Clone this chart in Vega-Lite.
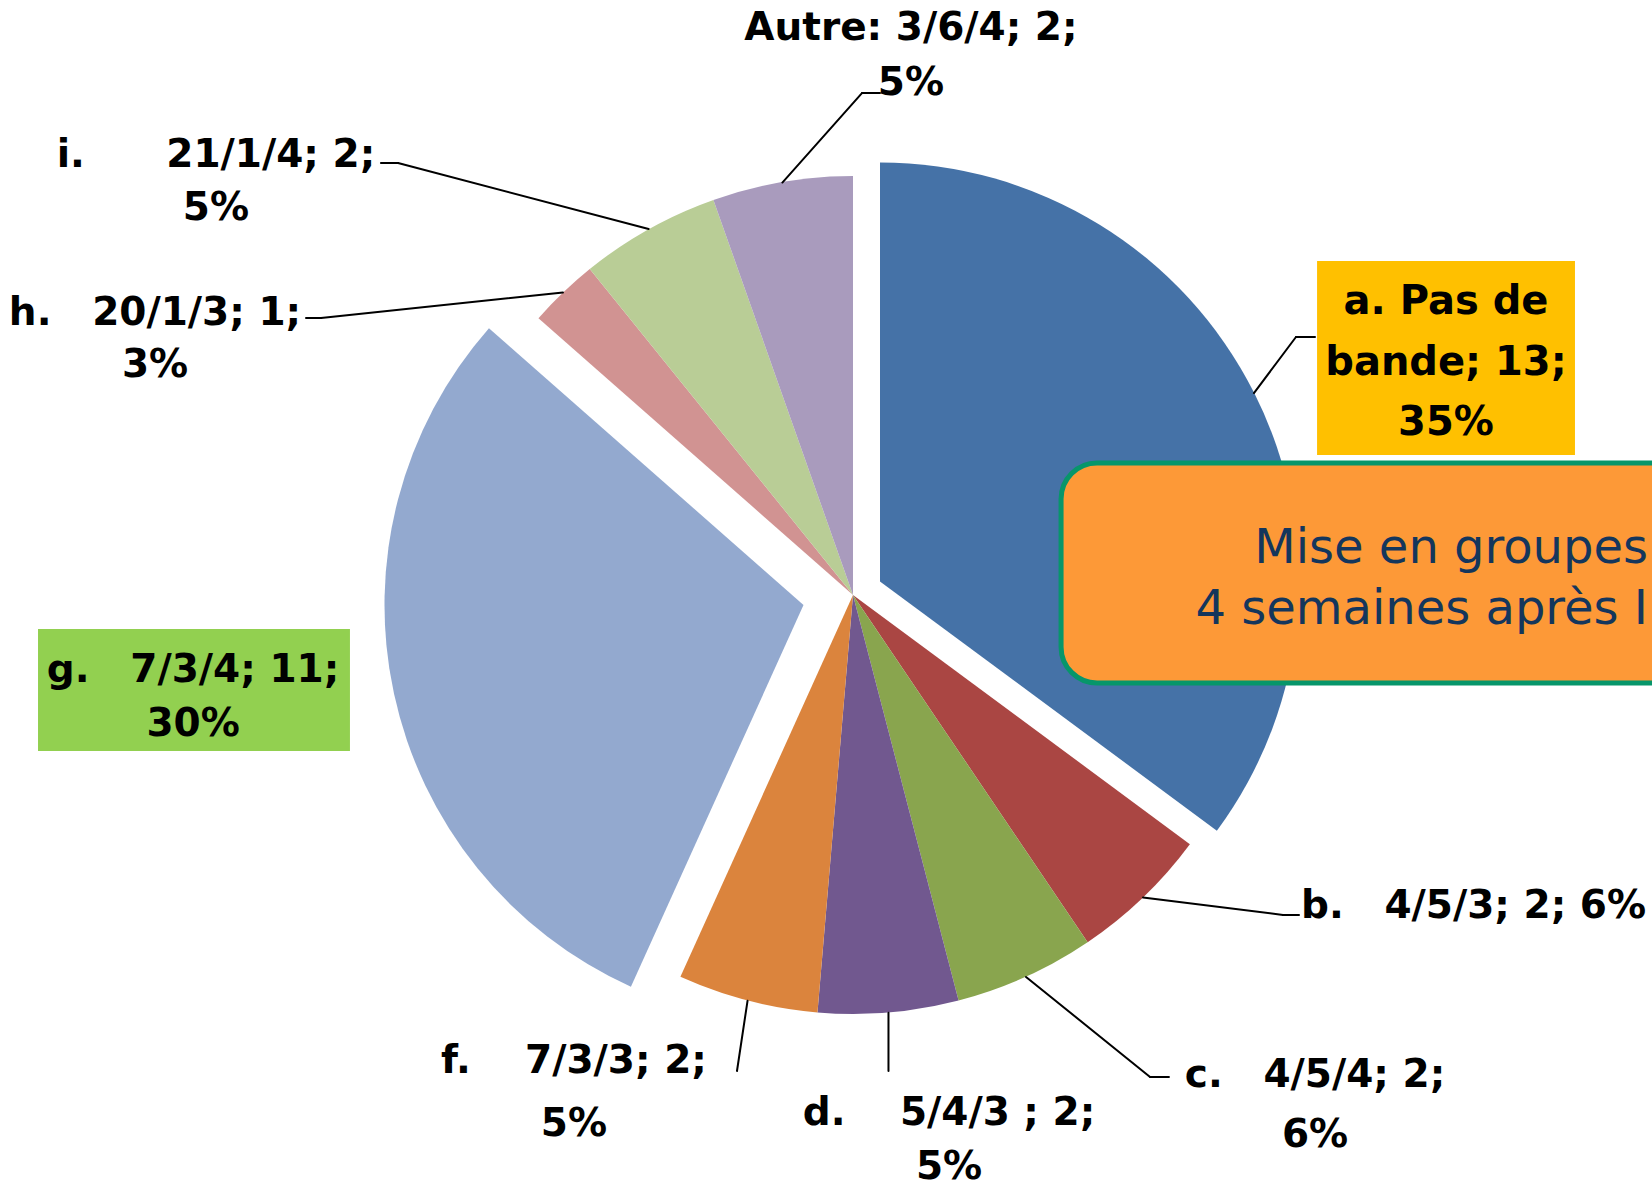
{
  "$schema": "https://vega.github.io/schema/vega-lite/v6.json",
  "width": 1598,
  "height": 1190,
  "autosize": {"type": "none"},
  "padding": {"left": 54, "top": 0, "right": 0, "bottom": 6},
  "background": "white",
  "config": {"view": {"stroke": null}},
  "data": {"values": [
    {"idx": 1, "cat": "a", "n": 13, "label": "a. Pas de\nbande; 13;\n35%"},
    {"idx": 2, "cat": "b", "n": 2, "label": "b.\u00a0\u00a0\u00a04/5/3; 2; 6%"},
    {"idx": 3, "cat": "c", "n": 2, "label": "c.\u00a0\u00a0\u00a04/5/4; 2;\n6%"},
    {"idx": 4, "cat": "d", "n": 2, "label": "d.\u00a0\u00a0\u00a0\u00a05/4/3 ; 2;\n5%"},
    {"idx": 5, "cat": "f", "n": 2, "label": "f.\u00a0\u00a0\u00a0\u00a07/3/3; 2;\n5%"},
    {"idx": 6, "cat": "g", "n": 11, "label": "g.\u00a0\u00a0\u00a07/3/4; 11;\n30%"},
    {"idx": 7, "cat": "h", "n": 1, "label": "h.\u00a0\u00a0\u00a020/1/3; 1;\n3%"},
    {"idx": 8, "cat": "i", "n": 2, "label": "i.\u00a0\u00a0\u00a0\u00a0\u00a0\u00a021/1/4; 2;\n5%"},
    {"idx": 9, "cat": "Autre", "n": 2, "label": "Autre: 3/6/4; 2;\n5%"}
  ]},
  "layer": [
    {
      "encoding": {
        "theta": {"field": "n", "type": "quantitative", "stack": true},
        "order": {"field": "idx", "type": "quantitative"},
        "color": {"field": "cat", "type": "nominal", "legend": null,
          "scale": {"domain": ["a", "b", "c", "d", "f", "g", "h", "i", "Autre"],
                    "range": ["#4572A7", "#AA4643", "#89A54E", "#71588F", "#DB843D", "#93A9CF", "#D19392", "#B9CD96", "#A99BBD"]}}
      },
      "layer": [
        {"mark": {"type": "arc", "radius": 419},
         "encoding": {"opacity": {"condition": {"test": "datum.cat === 'a' || datum.cat === 'g'", "value": 0}, "value": 1}}},
        {"mark": {"type": "arc", "radius": 419, "xOffset": 27, "yOffset": -13.5},
         "encoding": {"opacity": {"condition": {"test": "datum.cat === 'a'", "value": 1}, "value": 0}}},
        {"mark": {"type": "arc", "radius": 419, "xOffset": -49.5, "yOffset": 10},
         "encoding": {"opacity": {"condition": {"test": "datum.cat === 'g'", "value": 1}, "value": 0}}}
      ]
    },
    {"data": {"values": [{}]}, "mark": {"type": "rule", "color": "#000000", "strokeWidth": 2, "strokeCap": "round"},
     "encoding": {"x": {"datum": 45.58, "type": "quantitative", "scale": {"domain": [0, 100]}, "axis": null}, "y": {"datum": 15.34, "type": "quantitative", "scale": {"domain": [0, 100], "reverse": true}, "axis": null}, "x2": {"datum": 50.56}, "y2": {"datum": 7.82}}},
    {"data": {"values": [{}]}, "mark": {"type": "rule", "color": "#000000", "strokeWidth": 2, "strokeCap": "round"},
     "encoding": {"x": {"datum": 50.56, "type": "quantitative", "scale": {"domain": [0, 100]}, "axis": null}, "y": {"datum": 7.82, "type": "quantitative", "scale": {"domain": [0, 100], "reverse": true}, "axis": null}, "x2": {"datum": 51.69}, "y2": {"datum": 7.82}}},
    {"data": {"values": [{}]}, "mark": {"type": "rule", "color": "#000000", "strokeWidth": 2, "strokeCap": "round"},
     "encoding": {"x": {"datum": 37.21, "type": "quantitative", "scale": {"domain": [0, 100]}, "axis": null}, "y": {"datum": 19.24, "type": "quantitative", "scale": {"domain": [0, 100], "reverse": true}, "axis": null}, "x2": {"datum": 21.53}, "y2": {"datum": 13.7}}},
    {"data": {"values": [{}]}, "mark": {"type": "rule", "color": "#000000", "strokeWidth": 2, "strokeCap": "round"},
     "encoding": {"x": {"datum": 21.53, "type": "quantitative", "scale": {"domain": [0, 100]}, "axis": null}, "y": {"datum": 13.7, "type": "quantitative", "scale": {"domain": [0, 100], "reverse": true}, "axis": null}, "x2": {"datum": 20.46}, "y2": {"datum": 13.7}}},
    {"data": {"values": [{}]}, "mark": {"type": "rule", "color": "#000000", "strokeWidth": 2, "strokeCap": "round"},
     "encoding": {"x": {"datum": 31.85, "type": "quantitative", "scale": {"domain": [0, 100]}, "axis": null}, "y": {"datum": 24.58, "type": "quantitative", "scale": {"domain": [0, 100], "reverse": true}, "axis": null}, "x2": {"datum": 16.71}, "y2": {"datum": 26.72}}},
    {"data": {"values": [{}]}, "mark": {"type": "rule", "color": "#000000", "strokeWidth": 2, "strokeCap": "round"},
     "encoding": {"x": {"datum": 16.71, "type": "quantitative", "scale": {"domain": [0, 100]}, "axis": null}, "y": {"datum": 26.72, "type": "quantitative", "scale": {"domain": [0, 100], "reverse": true}, "axis": null}, "x2": {"datum": 15.77}, "y2": {"datum": 26.72}}},
    {"data": {"values": [{}]}, "mark": {"type": "rule", "color": "#000000", "strokeWidth": 2, "strokeCap": "round"},
     "encoding": {"x": {"datum": 75.09, "type": "quantitative", "scale": {"domain": [0, 100]}, "axis": null}, "y": {"datum": 33.03, "type": "quantitative", "scale": {"domain": [0, 100], "reverse": true}, "axis": null}, "x2": {"datum": 77.72}, "y2": {"datum": 28.32}}},
    {"data": {"values": [{}]}, "mark": {"type": "rule", "color": "#000000", "strokeWidth": 2, "strokeCap": "round"},
     "encoding": {"x": {"datum": 77.72, "type": "quantitative", "scale": {"domain": [0, 100]}, "axis": null}, "y": {"datum": 28.32, "type": "quantitative", "scale": {"domain": [0, 100], "reverse": true}, "axis": null}, "x2": {"datum": 78.91}, "y2": {"datum": 28.32}}},
    {"data": {"values": [{}]}, "mark": {"type": "rule", "color": "#000000", "strokeWidth": 2, "strokeCap": "round"},
     "encoding": {"x": {"datum": 68.15, "type": "quantitative", "scale": {"domain": [0, 100]}, "axis": null}, "y": {"datum": 75.42, "type": "quantitative", "scale": {"domain": [0, 100], "reverse": true}, "axis": null}, "x2": {"datum": 76.91}, "y2": {"datum": 76.89}}},
    {"data": {"values": [{}]}, "mark": {"type": "rule", "color": "#000000", "strokeWidth": 2, "strokeCap": "round"},
     "encoding": {"x": {"datum": 76.91, "type": "quantitative", "scale": {"domain": [0, 100]}, "axis": null}, "y": {"datum": 76.89, "type": "quantitative", "scale": {"domain": [0, 100], "reverse": true}, "axis": null}, "x2": {"datum": 77.91}, "y2": {"datum": 76.89}}},
    {"data": {"values": [{}]}, "mark": {"type": "rule", "color": "#000000", "strokeWidth": 2, "strokeCap": "round"},
     "encoding": {"x": {"datum": 60.83, "type": "quantitative", "scale": {"domain": [0, 100]}, "axis": null}, "y": {"datum": 82.1, "type": "quantitative", "scale": {"domain": [0, 100], "reverse": true}, "axis": null}, "x2": {"datum": 68.59}, "y2": {"datum": 90.5}}},
    {"data": {"values": [{}]}, "mark": {"type": "rule", "color": "#000000", "strokeWidth": 2, "strokeCap": "round"},
     "encoding": {"x": {"datum": 68.59, "type": "quantitative", "scale": {"domain": [0, 100]}, "axis": null}, "y": {"datum": 90.5, "type": "quantitative", "scale": {"domain": [0, 100], "reverse": true}, "axis": null}, "x2": {"datum": 69.77}, "y2": {"datum": 90.5}}},
    {"data": {"values": [{}]}, "mark": {"type": "rule", "color": "#000000", "strokeWidth": 2, "strokeCap": "round"},
     "encoding": {"x": {"datum": 52.22, "type": "quantitative", "scale": {"domain": [0, 100]}, "axis": null}, "y": {"datum": 85.1, "type": "quantitative", "scale": {"domain": [0, 100], "reverse": true}, "axis": null}, "x2": {"datum": 52.22}, "y2": {"datum": 90.0}}},
    {"data": {"values": [{}]}, "mark": {"type": "rule", "color": "#000000", "strokeWidth": 2, "strokeCap": "round"},
     "encoding": {"x": {"datum": 43.4, "type": "quantitative", "scale": {"domain": [0, 100]}, "axis": null}, "y": {"datum": 84.1, "type": "quantitative", "scale": {"domain": [0, 100], "reverse": true}, "axis": null}, "x2": {"datum": 42.74}, "y2": {"datum": 90.0}}},
    {"data": {"values": [{}]}, "mark": {"type": "rect", "fill": "#FFC000"},
     "encoding": {"x": {"datum": 79.04, "type": "quantitative", "scale": {"domain": [0, 100]}, "axis": null}, "x2": {"datum": 95.18}, "y": {"datum": 21.93, "type": "quantitative", "scale": {"domain": [0, 100], "reverse": true}, "axis": null}, "y2": {"datum": 38.24}}},
    {"data": {"values": [{}]}, "mark": {"type": "rect", "fill": "#92D050"},
     "encoding": {"x": {"datum": -1.0, "type": "quantitative", "scale": {"domain": [0, 100]}, "axis": null}, "x2": {"datum": 18.52}, "y": {"datum": 52.86, "type": "quantitative", "scale": {"domain": [0, 100], "reverse": true}, "axis": null}, "y2": {"datum": 63.11}}},
    {
      "encoding": {
        "theta": {"field": "n", "type": "quantitative", "stack": true},
        "order": {"field": "idx", "type": "quantitative"},
        "detail": {"field": "cat", "type": "nominal"}
      },
      "layer": [
        {"mark": {"type": "text", "radius": 470, "dx": 173.3, "dy": -69.4, "align": "center", "baseline": "alphabetic", "font": "DejaVu Sans", "fontWeight": "bold", "fontSize": 40, "lineBreak": "\n", "lineHeight": 60.5, "color": "#000000"},
         "encoding": {"text": {"condition": {"test": "datum.cat === 'a'", "field": "label", "type": "nominal"}, "value": ""}}},
        {"mark": {"type": "text", "radius": 470, "dx": 295.3, "dy": -16.3, "align": "center", "baseline": "alphabetic", "font": "DejaVu Sans", "fontWeight": "bold", "fontSize": 39, "lineBreak": "\n", "lineHeight": 55, "color": "#000000"},
         "encoding": {"text": {"condition": {"test": "datum.cat === 'b'", "field": "label", "type": "nominal"}, "value": ""}}},
        {"mark": {"type": "text", "radius": 470, "dx": 268.4, "dy": 63.7, "align": "center", "baseline": "alphabetic", "font": "DejaVu Sans", "fontWeight": "bold", "fontSize": 39, "lineBreak": "\n", "lineHeight": 60, "color": "#000000"},
         "encoding": {"text": {"condition": {"test": "datum.cat === 'c'", "field": "label", "type": "nominal"}, "value": ""}}},
        {"mark": {"type": "text", "radius": 470, "dx": 56.2, "dy": 61.7, "align": "center", "baseline": "alphabetic", "font": "DejaVu Sans", "fontWeight": "bold", "fontSize": 39, "lineBreak": "\n", "lineHeight": 54, "color": "#000000"},
         "encoding": {"text": {"condition": {"test": "datum.cat === 'd'", "field": "label", "type": "nominal"}, "value": ""}}},
        {"mark": {"type": "text", "radius": 470, "dx": -160.6, "dy": 23.1, "align": "center", "baseline": "alphabetic", "font": "DejaVu Sans", "fontWeight": "bold", "fontSize": 39, "lineBreak": "\n", "lineHeight": 63, "color": "#000000"},
         "encoding": {"text": {"condition": {"test": "datum.cat === 'f'", "field": "label", "type": "nominal"}, "value": ""}}},
        {"mark": {"type": "text", "radius": 470, "dx": -200.5, "dy": -12, "align": "center", "baseline": "alphabetic", "font": "DejaVu Sans", "fontWeight": "bold", "fontSize": 39, "lineBreak": "\n", "lineHeight": 54, "color": "#000000"},
         "encoding": {"text": {"condition": {"test": "datum.cat === 'g'", "field": "label", "type": "nominal"}, "value": ""}}},
        {"mark": {"type": "text", "radius": 470, "dx": -372.8, "dy": 69.3, "align": "center", "baseline": "alphabetic", "font": "DejaVu Sans", "fontWeight": "bold", "fontSize": 39, "lineBreak": "\n", "lineHeight": 52, "color": "#000000"},
         "encoding": {"text": {"condition": {"test": "datum.cat === 'h'", "field": "label", "type": "nominal"}, "value": ""}}},
        {"mark": {"type": "text", "radius": 470, "dx": -407.8, "dy": -17.7, "align": "center", "baseline": "alphabetic", "font": "DejaVu Sans", "fontWeight": "bold", "fontSize": 39, "lineBreak": "\n", "lineHeight": 53, "color": "#000000"},
         "encoding": {"text": {"condition": {"test": "datum.cat === 'i'", "field": "label", "type": "nominal"}, "value": ""}}},
        {"mark": {"type": "text", "radius": 470, "dx": 137.4, "dy": -91.8, "align": "center", "baseline": "alphabetic", "font": "DejaVu Sans", "fontWeight": "bold", "fontSize": 39, "lineBreak": "\n", "lineHeight": 55, "color": "#000000"},
         "encoding": {"text": {"condition": {"test": "datum.cat === 'Autre'", "field": "label", "type": "nominal"}, "value": ""}}}
      ]
    },
    {"data": {"values": [{}]}, "mark": {"type": "rect", "fill": "#FD9937", "stroke": "#07966A", "strokeWidth": 5, "cornerRadius": 36},
     "encoding": {"x": {"datum": 63.02, "type": "quantitative", "scale": {"domain": [0, 100]}, "axis": null}, "x2": {"datum": 103.0}, "y": {"datum": 38.91, "type": "quantitative", "scale": {"domain": [0, 100], "reverse": true}, "axis": null}, "y2": {"datum": 57.39}}},
    {"data": {"values": [{}]}, "mark": {"type": "text", "text": "Mise en groupes\n4 semaines après I", "lineBreak": "\n", "align": "right", "baseline": "alphabetic", "font": "DejaVu Sans", "fontSize": 48, "lineHeight": 61, "color": "#14365C"},
     "encoding": {"x": {"datum": 99.75, "type": "quantitative", "scale": {"domain": [0, 100]}, "axis": null}, "y": {"datum": 47.27, "type": "quantitative", "scale": {"domain": [0, 100], "reverse": true}, "axis": null}}}
  ]
}
